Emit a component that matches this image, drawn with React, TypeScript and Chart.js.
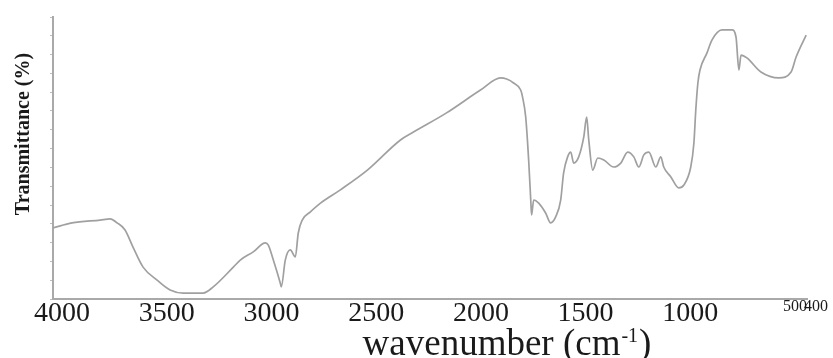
import React, { useEffect, useRef } from "react";
import { Chart, registerables } from "chart.js";

Chart.register(...registerables);

// Wavenumber (cm^-1) and transmittance (arbitrary %)
const wavenumbers = [
  4000, 3909, 3775, 3727, 3694, 3656, 3618, 3570, 3503, 3441, 3378, 3283, 3235,
  3139, 3106, 3044, 2986, 2972, 2948, 2915, 2910, 2891, 2867, 2843, 2829, 2810,
  2771, 2723, 2628, 2499, 2341, 2279, 2121, 1959, 1863, 1834, 1801, 1767, 1758,
  1743, 1729, 1719, 1715, 1705, 1681, 1648, 1624, 1600, 1576, 1562, 1543, 1528,
  1514, 1490, 1466, 1452, 1442, 1423, 1399, 1370, 1323, 1289, 1256, 1227, 1203,
  1179, 1155, 1122, 1098, 1084, 1050, 1012, 988, 955, 940, 931, 921, 911, 878,
  854, 806, 758, 739, 725, 715, 687, 620, 534, 476, 452, 404,
];
const transmittance = [
  25.2, 27.0, 28.0, 28.4, 27.0, 24.5, 18.4, 11.3, 6.7, 3.2, 2.1, 2.1, 4.3,
  11.3, 13.8, 16.7, 19.9, 19.1, 13.8, 5.7, 4.3, 13.8, 17.4, 14.9, 23.4, 28.0,
  30.9, 34.0, 38.7, 45.7, 56.4, 59.2, 66.0, 74.1, 78.4, 78.0, 76.6, 74.1, 71.6,
  64.5, 49.3, 35.1, 29.8, 35.1, 34.0, 30.5, 27.0, 29.1, 35.1, 44.7, 50.4, 52.1,
  48.2, 50.4, 57.4, 64.5, 56.4, 45.7, 50.0, 49.3, 46.8, 48.2, 52.1, 50.4, 46.8,
  51.1, 52.1, 46.8, 50.4, 46.8, 43.3, 39.4, 40.4, 46.8, 55.3, 67.0, 76.6, 81.2, 87.2,
  91.8, 95.4, 95.4, 92.9, 81.2, 86.5, 85.5, 80.5, 78.4, 80.5, 85.8, 93.6,
];
const xTickValues = [4000, 3500, 3000, 2500, 2000, 1500, 1000, 500, 400];
const xTitleMain = "wavenumber (cm";
const xTitleSup = "-1";
const xTitleEnd = ")";
const yTitle = "Transmittance (%)";

const SERIF = '"Liberation Serif", "Times New Roman", serif';

const titlePlugin = {
  id: "axisTitles",
  afterDraw(chart: any) {
    const ctx = chart.ctx as CanvasRenderingContext2D;
    // Y title
    ctx.save();
    ctx.translate(29, 134);
    ctx.rotate(-Math.PI / 2);
    ctx.font = `bold 20px ${SERIF}`;
    ctx.fillStyle = "#1a1a1a";
    ctx.textAlign = "center";
    ctx.textBaseline = "alphabetic";
    ctx.fillText(yTitle, 0, 0);
    ctx.restore();

    // X title with superscript
    ctx.save();
    ctx.fillStyle = "#1a1a1a";
    ctx.textBaseline = "alphabetic";
    ctx.textAlign = "left";
    const big = `37px ${SERIF}`;
    const small = `20px ${SERIF}`;
    ctx.font = big;
    const w1 = ctx.measureText(xTitleMain).width;
    const w3 = ctx.measureText(xTitleEnd).width;
    ctx.font = small;
    const w2 = ctx.measureText(xTitleSup).width;
    const total = w1 + w2 + w3 + 2;
    const cx = 507;
    const base = 355;
    let x = cx - total / 2;
    ctx.font = big;
    ctx.fillText(xTitleMain, x, base);
    x += w1 + 1;
    ctx.font = small;
    ctx.fillText(xTitleSup, x, base - 13);
    x += w2 + 1;
    ctx.font = big;
    ctx.fillText(xTitleEnd, x, base);
    ctx.restore();
  },
};

export default function App() {
  const ref = useRef<HTMLCanvasElement | null>(null);

  useEffect(() => {
    if (!ref.current) return;
    const data = wavenumbers
      .map((w, i) => ({ x: w, y: transmittance[i] }))
      .sort((a, b) => a.x - b.x);
    const chart = new Chart(ref.current, {
      type: "line",
      data: {
        datasets: [
          {
            data,
            borderColor: "#a0a0a0",
            borderWidth: 1.7,
            pointRadius: 0,
            cubicInterpolationMode: "monotone",
            fill: false,
          },
        ],
      },
      options: {
        animation: false,
        responsive: false,
        maintainAspectRatio: false,
        layout: { padding: { top: 17, right: 26, left: 0, bottom: 0 } },
        plugins: {
          legend: { display: false },
          tooltip: { enabled: false },
        },
        scales: {
          x: {
            type: "linear",
            reverse: true,
            min: 400,
            max: 4000,
            afterBuildTicks: (scale: any) => {
              scale.ticks = xTickValues.map((v) => ({ value: v }));
            },
            afterFit: (scale: any) => {
              scale.height = 59;
            },
            grid: { display: false, drawTicks: false },
            border: { display: true, color: "#a9a9a9", width: 2 },
            ticks: {
              autoSkip: false,
              maxRotation: 0,
              minRotation: 0,
              padding: 1,
              labelOffset: 9,
              color: "#1a1a1a",
              font: (c: any) =>
                c.tick && c.tick.value <= 500
                  ? { family: SERIF, size: 16, lineHeight: 0.8 }
                  : { family: SERIF, size: 28, lineHeight: 1 },
              callback: (v: any) => String(v),
            },
          },
          y: {
            type: "linear",
            min: 0,
            max: 100,
            afterBuildTicks: (scale: any) => {
              const t = [];
              for (let i = 0; i <= 15; i++) t.push({ value: (i * 100) / 15 });
              scale.ticks = t;
            },
            afterFit: (scale: any) => {
              scale.width = 53;
            },
            grid: {
              display: true,
              drawOnChartArea: false,
              drawTicks: true,
              tickLength: 3,
              color: "#bdbdbd",
              lineWidth: 1,
            },
            border: { display: true, color: "#a9a9a9", width: 2 },
            ticks: { display: false },
          },
        },
      },
      plugins: [titlePlugin],
    });
    return () => chart.destroy();
  }, []);

  return (
    <div
      style={{
        position: "fixed",
        left: 0,
        top: 0,
        width: 833,
        height: 358,
        background: "#fff",
      }}
    >
      <canvas ref={ref} width={833} height={358} style={{ display: "block" }} />
    </div>
  );
}
